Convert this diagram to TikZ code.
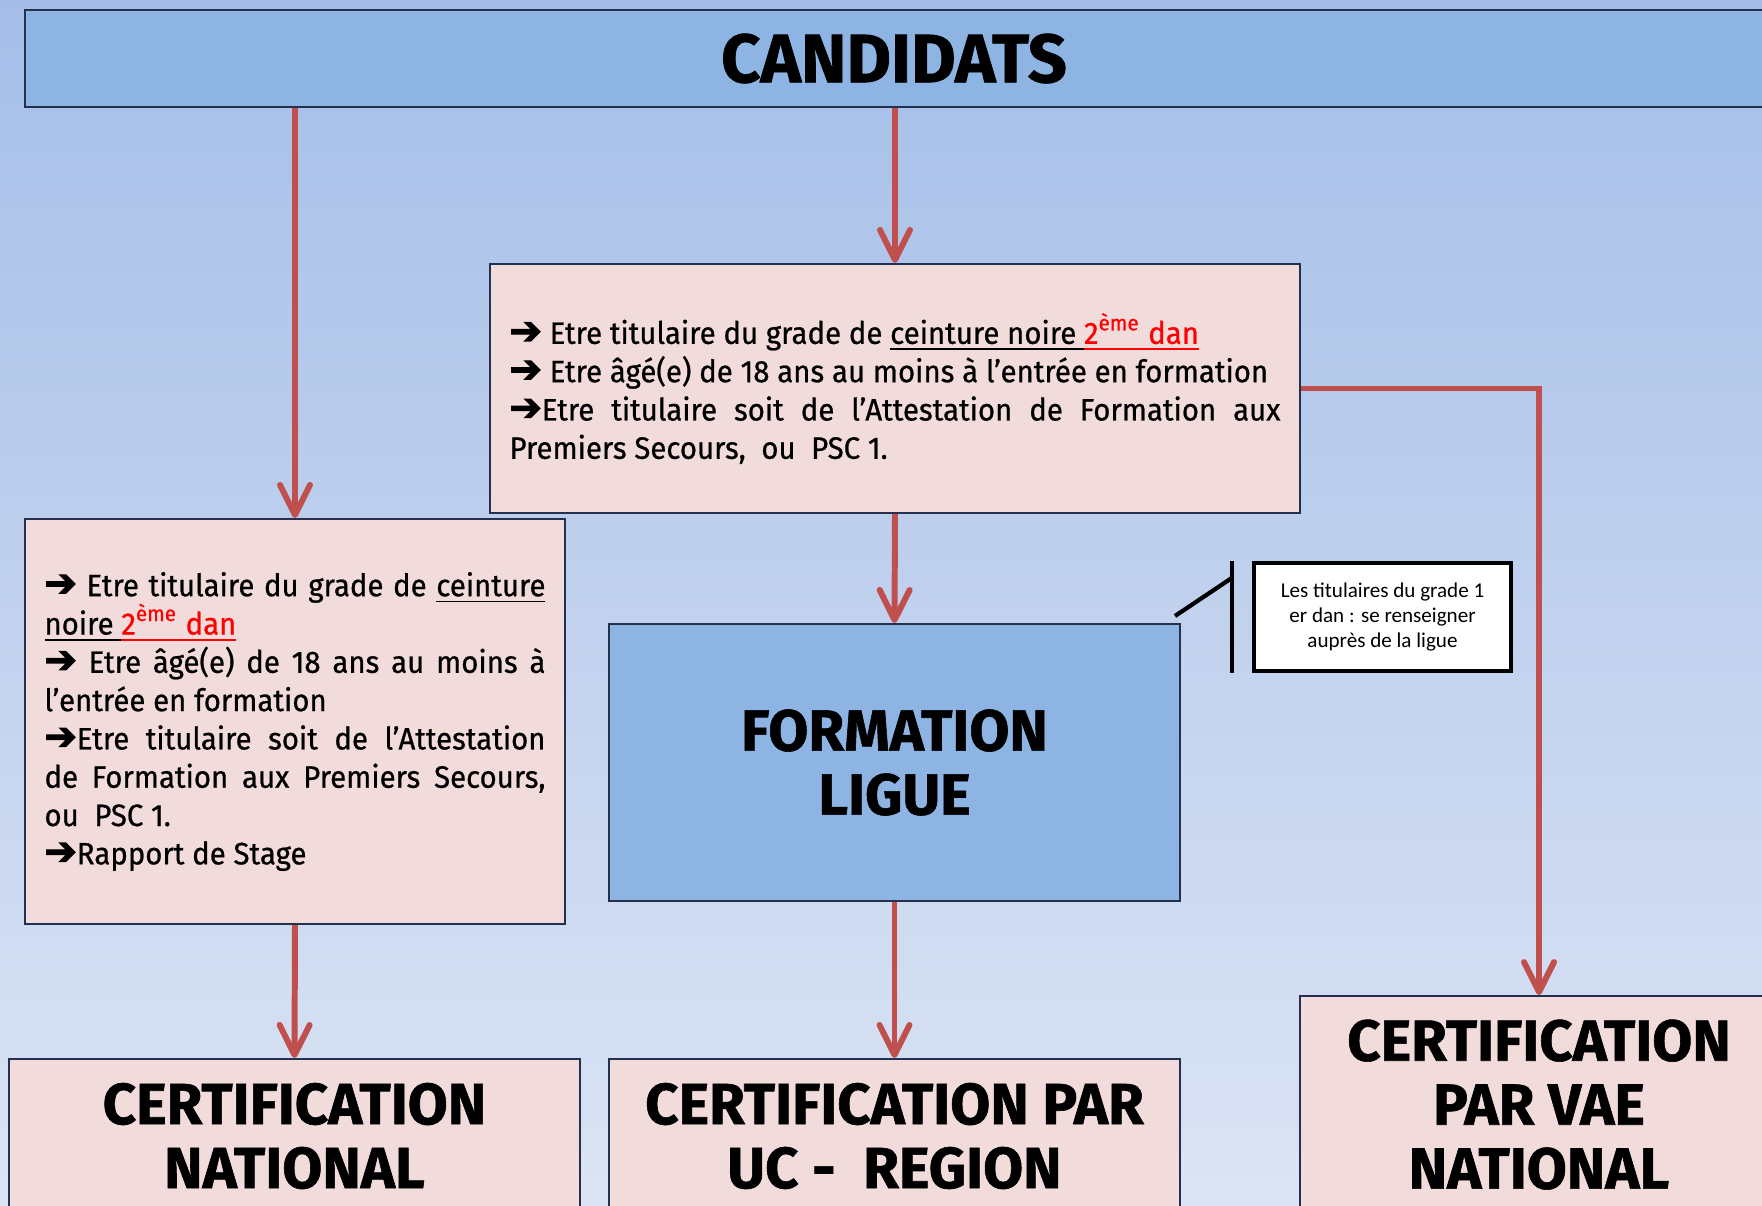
\documentclass[tikz,border=0pt]{standalone}
\usepackage{fontspec}
\setmainfont{Fira Sans}[FakeStretch=0.95,FakeBold=0.7]
\newfontfamily\headfont{Fira Sans}[FakeBold=1]
\newfontfamily\notefont{Carlito}
\newfontfamily\arrowfont{DejaVu Sans}[FakeBold=3]
\usetikzlibrary{arrows.meta}
\definecolor{bgtop}{RGB}{165,190,232}
\definecolor{bgbot}{RGB}{220,228,244}
\definecolor{cielfill}{RGB}{141,180,226}
\definecolor{rosefill}{RGB}{242,220,219}
\definecolor{trait}{RGB}{35,48,78}
\definecolor{fleche}{RGB}{192,80,77}
\newcommand{\tarrow}{{\arrowfont\fontsize{11}{10.9}\selectfont ➔}}
\newcommand{\dan}{{\color{red}\underline{2\textsuperscript{ème} dan}}}

\begin{document}
\begin{tikzpicture}[x=0.1mm,y=-0.1mm,
  box/.style={draw=trait,line width=0.6pt,fill=rosefill},
  ciel/.style={draw=trait,line width=0.6pt,fill=cielfill},
  title/.style={font=\headfont\bfseries\fontsize{16.5}{18.2}\selectfont,align=center},
  body/.style={font=\fontsize{8.8}{10.9}\selectfont,align=justify,inner xsep=1.95mm},
  flow/.style={draw=fleche,line width=1.7pt,-{Straight Barb[round,length=3mm,width=3mm]}}]
\shade[top color=bgtop,bottom color=bgbot] (0,0) rectangle (1762,1205);
\useasboundingbox (0,0) rectangle (1762,1205);
\clip (0,0) rectangle (1762,1205);

\node[ciel,title,font=\headfont\bfseries\fontsize{19.5}{22}\selectfont,minimum width=173.8mm,minimum height=9.7mm] (cand) at (894,58.5) {CANDIDATS};

\node[box,body,text width=77.1mm,minimum height=24.9mm] (crit) at (895,388.5) {%
\tarrow{} Etre titulaire du grade de \underline{ceinture noire }\dan\\
\tarrow{} Etre âgé(e) de 18 ans au moins à l’entrée en formation\\
\tarrow Etre titulaire soit de l’Attestation de Formation aux\linebreak
Premiers Secours,\ \ ou\ \ PSC 1.};

\node[box,body,text width=50.1mm,minimum height=40.5mm] (critstage) at (295,721.5) {%
\tarrow{} Etre titulaire du grade de \underline{ceinture}\linebreak
\underline{noire }\dan\\
\tarrow{} Etre âgé(e) de 18 ans au moins à\linebreak
l’entrée en formation\\
\tarrow Etre titulaire soit de l’Attestation\linebreak
de Formation aux Premiers Secours,\linebreak
ou\ \ PSC 1.\\
\tarrow Rapport de Stage};

\node[ciel,title,minimum width=57.1mm,minimum height=27.7mm] (form) at (894.5,762.5) {FORMATION\\LIGUE};

\node[box,title,minimum width=57.1mm,minimum height=15.4mm] (certnat) at (294.5,1136) {CERTIFICATION\\NATIONAL};
\node[box,title,minimum width=57.1mm,minimum height=15.4mm] (certuc) at (894.5,1136) {CERTIFICATION PAR\\UC -\ \ REGION};
\node[box,title,minimum width=47.8mm,minimum height=21.7mm] (certvae) at (1539,1104.6) {CERTIFICATION\\PAR VAE\\NATIONAL};

% bulle
\node[draw=black,line width=1.2pt,fill=white,align=center,font=\notefont\fontsize{6}{7.2}\selectfont,minimum width=25.7mm,minimum height=10.8mm] (note) at (1382.5,617) {Les titulaires du grade 1\\er dan : se renseigner\\auprès de la ligue};
\coordinate (pin) at (1175,616);
\draw[line width=1.2pt] ([xshift=-2mm]note.north west) -- ([xshift=-2mm]note.south west);
\draw[line width=1.2pt] ([xshift=-2mm,yshift=-1.7mm]note.north west) -- (pin);

% fleches
\draw[flow] (cand.south -| critstage.north) -- (critstage.north);
\draw[flow] (cand.south -| crit.north) -- (crit.north);
\draw[flow] (crit.south) -- (form.north);
\draw[flow] (critstage.south) -- (certnat.north);
\draw[flow] (form.south) -- (certuc.north);
\draw[flow] (crit.east) -| (certvae.north);
\end{tikzpicture}
\end{document}
